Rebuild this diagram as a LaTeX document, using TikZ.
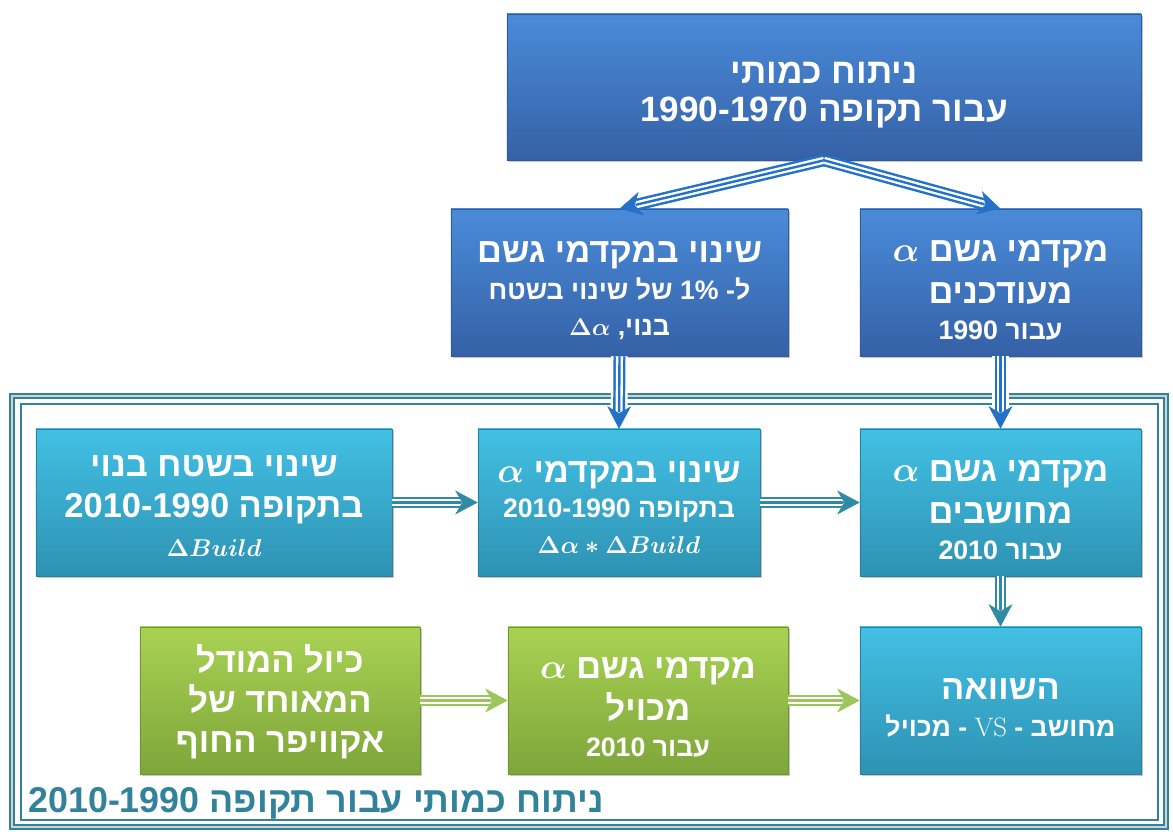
\documentclass[tikz,border=0pt]{standalone}
\usepackage{amsmath}
\usepackage[no-math]{fontspec}
\usetikzlibrary{arrows.meta, shadows, positioning}
\TeXXeTstate=1
\newfontfamily\hebfont[Script=Hebrew]{Liberation Sans}
\definecolor{blueT}{HTML}{4A8BD9}
\definecolor{blueB}{HTML}{3561A6}
\definecolor{blueE}{HTML}{2F5A9E}
\definecolor{cyanT}{HTML}{42C0E4}
\definecolor{cyanB}{HTML}{2E92B3}
\definecolor{cyanE}{HTML}{2B7F9A}
\definecolor{greenT}{HTML}{A9D254}
\definecolor{greenB}{HTML}{7EA53A}
\definecolor{greenE}{HTML}{6F9432}
\definecolor{arrBlue}{HTML}{2372C8}
\definecolor{arrTeal}{HTML}{318AA4}
\definecolor{arrGreen}{HTML}{9DC55E}
\definecolor{frameTeal}{HTML}{31829A}
\newcommand{\heb}[1]{\beginR #1\endR}
\newcommand{\ltr}[1]{\beginL #1\endL{}}
\newcommand{\bmath}[1]{{\boldmath$#1$}}
\newcommand{\Lg}{\fontsize{24.5}{29.5}\selectfont}
\newcommand{\Sm}{\fontsize{19}{24}\selectfont}
% strut that pushes the text block of a box down a little
\newcommand{\lift}[1]{\rule{0pt}{#1pt}}

\begin{document}
\begin{tikzpicture}[x=0.025cm, y=-0.025cm,
    box/.style={rectangle, inner sep=0pt, align=center, text=white,
        font=\hebfont\bfseries\Lg, minimum height=3.675cm,
        drop shadow={shadow xshift=1.5pt, shadow yshift=-1.5pt, opacity=0.45}},
    bluebox/.style={box, top color=blueT, bottom color=blueB, draw=blueE},
    cyanbox/.style={box, top color=cyanT, bottom color=cyanB, draw=cyanE},
    greenbox/.style={box, top color=greenT, bottom color=greenB, draw=greenE},
    tarr/.style={draw=#1, line width=8.5pt, shorten >=12pt,
        postaction={draw=white, line width=5pt, shorten >=12pt},
        postaction={draw=#1, line width=1.7pt, shorten >=12pt},
        postaction={draw=#1, line width=0.4pt, shorten >=0pt,
            -{Stealth[length=16pt, width=17pt, inset=5pt]}}},
    gap/.style={preaction={draw=white, line width=12pt, shorten >=14pt}}]
\useasboundingbox (0,0) rectangle (1173,832);

% frame of the 1990-2010 part
\draw[frameTeal, line width=1.4pt, double=gray!35, double distance=1.6pt]
    (12,396) rectangle (1166,827);
\draw[frameTeal, line width=0.9pt] (21,404) rectangle (1158,820);

% boxes
\node[bluebox, minimum width=15.85cm, minimum height=3.65cm,
      font=\hebfont\bfseries\fontsize{25}{27.5}\selectfont] (top) at (824,87)
    {\lift{26.6}\heb{ניתוח כמותי}\\ \heb{עבור תקופה \ltr{1990-1970}}};
\node[bluebox, minimum width=8.425cm] (dalpha) at (619.5,282.5)
    {\lift{26}\heb{שינוי במקדמי גשם}\\[-3pt] \Sm\heb{ל- \ltr{1\%} של שינוי בשטח}\\[-4pt]
     \Sm\heb{בנוי, \ltr{\bmath{\Delta\alpha}}}};
\node[bluebox, minimum width=7.025cm] (alpha90) at (1000.5,282.5)
    {\lift{26}\heb{מקדמי גשם \ltr{\bmath{\alpha}}}\\ \heb{מעודכנים}\\[-4pt]
     \Sm\heb{עבור \ltr{1990}}};
\node[cyanbox, minimum width=8.9cm] (build) at (214,502.5)
    {\lift{20}\heb{שינוי בשטח בנוי}\\ \heb{בתקופה \ltr{2010-1990}}\\[-2pt]
     \Sm\bmath{\Delta Build}};
\node[cyanbox, minimum width=7.05cm] (chg) at (619,502.5)
    {\lift{22}\heb{שינוי במקדמי \ltr{\bmath{\alpha}}}\\[-4pt]
     \Sm\heb{בתקופה \ltr{2010-1990}}\\[-4pt] \Sm\bmath{\Delta\alpha * \Delta Build}};
\node[cyanbox, minimum width=7.025cm] (calc) at (1000.5,502.5)
    {\lift{26}\heb{מקדמי גשם \ltr{\bmath{\alpha}}}\\ \heb{מחושבים}\\[-4pt]
     \Sm\heb{עבור \ltr{2010}}};
\node[greenbox, minimum width=7cm] (model) at (280,700.5)
    {\lift{22}\heb{כיול המודל}\\[-1pt] \heb{המאוחד של}\\[-1pt] \heb{אקוויפר החוף}};
\node[greenbox, minimum width=7cm] (calib) at (648,700.5)
    {\lift{24.5}\heb{מקדמי גשם \ltr{\bmath{\alpha}}}\\ \heb{מכויל}\\[-4pt]
     \Sm\heb{עבור \ltr{2010}}};
\node[cyanbox, minimum width=7.025cm] (cmp) at (1000.5,700.5)
    {\lift{25}\heb{השוואה}\\[-3pt] \Sm\heb{מחושב - \ltr{{\mdseries\rmfamily VS}} - מכויל}};

% title of the frame
\node[anchor=west, inner sep=0pt, text=frameTeal, font=\hebfont\bfseries\fontsize{25.5}{28}\selectfont]
    (title) at (28,803) {\heb{ניתוח כמותי עבור תקופה \ltr{2010-1990}}};

% arrows
\draw[tarr=arrBlue] (top.south) -- (dalpha.north);
\draw[tarr=arrBlue] (top.south) -- (alpha90.north);
\draw[tarr=arrBlue, gap] (dalpha.south) -- (chg.north);
\draw[tarr=arrBlue, gap] (alpha90.south) -- (calc.north);
\draw[tarr=arrTeal] (build.east) -- (chg.west);
\draw[tarr=arrTeal] (chg.east) -- (calc.west);
\draw[tarr=arrTeal] (calc.south) -- (cmp.north);
\draw[tarr=arrGreen] (model.east) -- (calib.west);
\draw[tarr=arrGreen] (calib.east) -- (cmp.west);
\end{tikzpicture}
\end{document}
